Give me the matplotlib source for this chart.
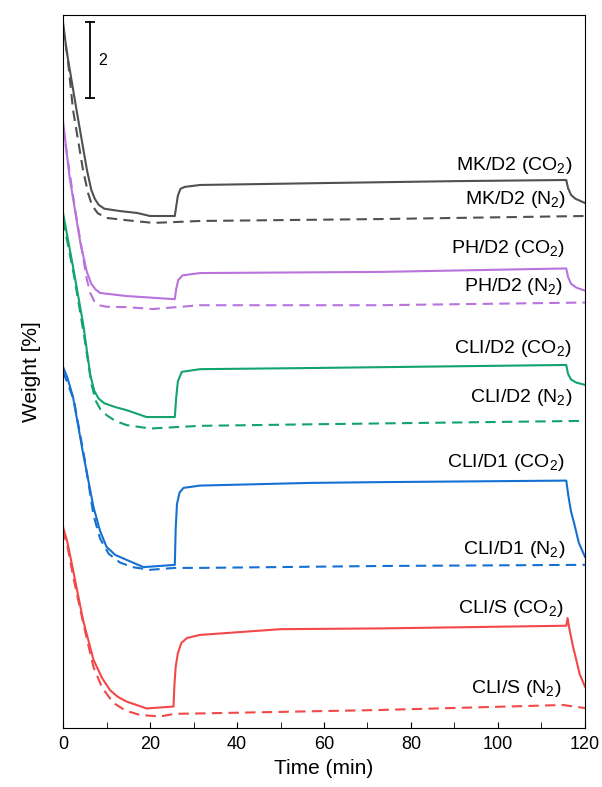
import matplotlib.pyplot as plt
from matplotlib.ticker import MultipleLocator

plt.rcParams['font.family'] = ['Liberation Sans', 'DejaVu Sans']
plt.rcParams['mathtext.fontset'] = 'custom'
plt.rcParams['mathtext.rm'] = 'Liberation Sans'

# time (min) / weight (arbitrary offset, %)
mk_co2_t = [0, 0.8, 3.1, 5.5, 6.5, 7.3, 8.2, 9.5, 13, 17, 20, 25.7, 26.0, 26.4, 27, 28, 31.5, 60, 90, 115.7, 116.1, 116.8, 117.8, 120]
mk_co2_w = [18.43, 17.70, 16.14, 14.57, 14.05, 13.82, 13.66, 13.56, 13.50, 13.45, 13.37, 13.37, 13.60, 13.90, 14.08, 14.13, 14.18, 14.23, 14.28, 14.31, 14.10, 13.92, 13.82, 13.71]
mk_n2_t = [0, 1, 2.3, 4.6, 5.8, 6.7, 8, 10, 14.6, 20.7, 25.3, 31.5, 73, 120]
mk_n2_w = [18.28, 17.57, 16.14, 14.57, 13.95, 13.64, 13.44, 13.32, 13.26, 13.19, 13.21, 13.24, 13.29, 13.37]

ph_co2_t = [0, 1.5, 4, 5.5, 6.5, 7.5, 8.5, 14.6, 25.3, 25.7, 26.0, 26.5, 27.5, 31.5, 73, 115.7, 116.1, 116.8, 118, 120]
ph_co2_w = [15.85, 14.39, 12.66, 11.90, 11.60, 11.45, 11.36, 11.28, 11.20, 11.20, 11.45, 11.70, 11.82, 11.88, 11.91, 12.00, 11.78, 11.60, 11.50, 11.42]
ph_n2_t = [0, 2.8, 5.5, 6.3, 7.2, 8.3, 10, 14.6, 20.7, 31.5, 73, 120]
ph_n2_w = [15.67, 13.52, 11.70, 11.35, 11.14, 11.04, 11.00, 10.99, 10.94, 11.04, 11.04, 11.11]

d2_co2_t = [0, 2.3, 4.6, 6.3, 7.2, 8.2, 9.5, 12, 14.6, 19.2, 25.7, 26.0, 26.4, 27.3, 31.5, 57, 115.7, 116.1, 116.8, 118, 120]
d2_co2_w = [13.45, 12.04, 10.57, 9.20, 8.80, 8.60, 8.48, 8.38, 8.30, 8.12, 8.12, 8.60, 9.05, 9.30, 9.37, 9.40, 9.48, 9.25, 9.10, 9.02, 8.96]
d2_n2_t = [0, 2.5, 5, 6.5, 7.5, 8.6, 10, 12, 14.6, 20, 31.5, 57, 120]
d2_n2_w = [13.26, 11.83, 10.13, 9.00, 8.55, 8.32, 8.17, 8.02, 7.91, 7.82, 7.89, 7.93, 8.02]

d1_co2_t = [0, 1, 2.3, 4.6, 7, 8.5, 10, 12, 14.6, 18.5, 25.7, 25.9, 26.2, 26.8, 27.7, 31.5, 57, 73, 115.7, 116.2, 116.8, 117.5, 118.6, 120]
d1_co2_w = [9.43, 9.15, 8.64, 7.18, 5.77, 5.15, 4.73, 4.52, 4.39, 4.20, 4.26, 5.20, 5.85, 6.15, 6.27, 6.33, 6.40, 6.42, 6.46, 6.05, 5.65, 5.35, 4.83, 4.47]
d1_n2_t = [0, 1, 2.5, 5, 7, 8.5, 10.5, 13.1, 16, 20, 25.7, 31.5, 73, 120]
d1_n2_w = [9.30, 9.02, 8.56, 7.00, 5.56, 4.95, 4.55, 4.32, 4.20, 4.13, 4.18, 4.18, 4.23, 4.26]

s_co2_t = [0, 1, 2.3, 4.6, 7, 9, 10.8, 12.5, 14.6, 19.2, 25.4, 25.6, 25.9, 26.4, 27.2, 28.5, 31.5, 50, 73, 115.7, 116, 116.4, 117.2, 118, 118.8, 120]
s_co2_w = [5.25, 4.85, 4.13, 2.82, 1.78, 1.30, 0.99, 0.82, 0.69, 0.51, 0.56, 1.10, 1.60, 1.95, 2.22, 2.35, 2.43, 2.58, 2.60, 2.67, 2.87, 2.60, 2.15, 1.78, 1.40, 1.08]
s_n2_t = [0, 1, 2.5, 5, 7, 9, 11.6, 14.5, 17.7, 22.3, 25.7, 31.5, 73, 115, 120]
s_n2_w = [5.17, 4.75, 3.86, 2.56, 1.59, 1.05, 0.65, 0.45, 0.34, 0.30, 0.37, 0.38, 0.47, 0.60, 0.52]

labels = ['MK/D2 (CO$_2$)', 'MK/D2 (N$_2$)', 'PH/D2 (CO$_2$)', 'PH/D2 (N$_2$)',
          'CLI/D2 (CO$_2$)', 'CLI/D2 (N$_2$)', 'CLI/D1 (CO$_2$)', 'CLI/D1 (N$_2$)',
          'CLI/S (CO$_2$)', 'CLI/S (N$_2$)']
label_t = [117.2, 115.8, 115.4, 115.0, 117.0, 117.0, 115.4, 115.4, 115.0, 114.6]
label_w = [14.70, 13.79, 12.53, 11.52, 9.90, 8.62, 6.92, 4.65, 3.13, 1.04]

c_mk = '#505050'
c_ph = '#b873dc'
c_d2 = '#12a46c'
c_d1 = '#1670d2'
c_s = '#f24848'

fig = plt.figure(figsize=(6.02, 7.87), dpi=100)
ax = fig.add_axes([0.1047, 0.075, 0.867, 0.906])

lw = 1.5
dash = (0, (5, 3))
ax.plot(mk_co2_t, mk_co2_w, color=c_mk, lw=lw)
ax.plot(mk_n2_t, mk_n2_w, color=c_mk, lw=lw, ls=dash)
ax.plot(ph_co2_t, ph_co2_w, color=c_ph, lw=lw)
ax.plot(ph_n2_t, ph_n2_w, color=c_ph, lw=lw, ls=dash)
ax.plot(d2_co2_t, d2_co2_w, color=c_d2, lw=lw)
ax.plot(d2_n2_t, d2_n2_w, color=c_d2, lw=lw, ls=dash)
ax.plot(d1_co2_t, d1_co2_w, color=c_d1, lw=lw)
ax.plot(d1_n2_t, d1_n2_w, color=c_d1, lw=lw, ls=dash)
ax.plot(s_co2_t, s_co2_w, color=c_s, lw=lw)
ax.plot(s_n2_t, s_n2_w, color=c_s, lw=lw, ls=dash)

for lab, t, w in zip(labels, label_t, label_w):
    ax.text(t, w, lab, ha='right', va='center', fontsize=14)

# scale bar (2 %)
ax.plot([6.2, 6.2], [16.44, 18.44], color='black', lw=1.3)
ax.plot([6.2, 6.2], [16.44, 18.44], color='black', ls='none', marker='_', ms=7, mew=1.3)
ax.text(8.0, 17.44, '2', fontsize=11.5, va='center', ha='left')

ax.set_xlim(0, 120)
ax.set_ylim(0, 18.62)
ax.xaxis.set_major_locator(MultipleLocator(20))
ax.xaxis.set_minor_locator(MultipleLocator(10))
ax.tick_params(axis='x', which='both', direction='in', labelsize=13, length=4, pad=6)
ax.set_yticks([])
ax.set_xlabel('Time (min)', fontsize=15, labelpad=4)
ax.set_ylabel('Weight [%]', fontsize=15, labelpad=16)

plt.savefig('out.png', dpi=100)
